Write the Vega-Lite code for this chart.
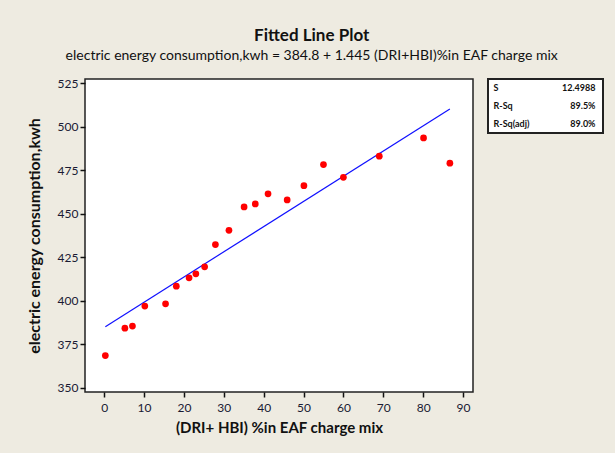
{
  "$schema": "https://vega.github.io/schema/vega-lite/v6.json",
  "background": "#EEEBE1",
  "padding": {"left": 25, "top": 27, "right": 12, "bottom": 20},
  "title": {
    "text": "Fitted Line Plot",
    "subtitle": "electric energy consumption,kwh = 384.8 + 1.445 (DRI+HBI)%in EAF charge mix",
    "anchor": "middle",
    "dx": -3,
    "fontSize": 17,
    "fontWeight": "bold",
    "color": "#111111",
    "subtitleFontSize": 14,
    "subtitleColor": "#111111",
    "subtitlePadding": 4,
    "offset": 12,
    "font": "Lato",
    "subtitleFont": "Lato"
  },
  "spacing": 13,
  "datasets": {
    "points": [
      {"x": 0.3, "y": 368.6},
      {"x": 5.2, "y": 384.3},
      {"x": 7.1, "y": 385.5},
      {"x": 10.2, "y": 397.0},
      {"x": 15.4, "y": 398.3},
      {"x": 18.1, "y": 408.4},
      {"x": 21.3, "y": 413.2},
      {"x": 23.0, "y": 415.5},
      {"x": 25.2, "y": 419.5},
      {"x": 27.9, "y": 432.3},
      {"x": 31.3, "y": 440.5},
      {"x": 35.1, "y": 453.9},
      {"x": 37.9, "y": 455.6},
      {"x": 41.1, "y": 461.4},
      {"x": 45.9, "y": 457.9},
      {"x": 50.1, "y": 466.1},
      {"x": 55.0, "y": 478.2},
      {"x": 60.0, "y": 470.9},
      {"x": 69.0, "y": 483.0},
      {"x": 80.1, "y": 493.5},
      {"x": 86.7, "y": 479.0}
    ],
    "fit": [
      {"x": 0.3, "y": 385.2},
      {"x": 86.7, "y": 510.1}
    ],
    "stats": [
      {"stat": "S", "value": "12.4988"},
      {"stat": "R-Sq", "value": "89.5%"},
      {"stat": "R-Sq(adj)", "value": "89.0%"}
    ]
  },
  "hconcat": [
    {
      "width": 388,
      "height": 313,
      "view": {"stroke": "#222222", "strokeWidth": 1.5, "fill": "white"},
      "encoding": {
        "x": {
          "field": "x", "type": "quantitative",
          "scale": {"domain": [-4.8, 92.5], "nice": false, "zero": false},
          "axis": {
            "title": "(DRI+ HBI) %in EAF charge mix",
            "values": [0, 10, 20, 30, 40, 50, 60, 70, 80, 90],
            "grid": false, "domain": false,
            "tickColor": "#111111", "tickSize": 5, "tickWidth": 1.5,
            "labelPadding": 5, "labelFontSize": 12, "labelColor": "#1a1a33",
            "labelFont": "Lato",
            "titleFont": "Lato",
            "titleFontSize": 15, "titleFontWeight": "bold", "titleColor": "#111111",
            "titlePadding": 7
          }
        },
        "y": {
          "field": "y", "type": "quantitative",
          "scale": {"domain": [347.7, 527.3], "nice": false, "zero": false},
          "axis": {
            "title": "electric energy consumption,kwh",
            "values": [350, 375, 400, 425, 450, 475, 500, 525],
            "grid": false, "domain": false,
            "tickColor": "#111111", "tickSize": 5, "tickWidth": 1.5,
            "labelPadding": 2, "labelFontSize": 12, "labelColor": "#1a1a33",
            "labelFont": "Lato",
            "titleFont": "Lato",
            "titleFontSize": 16, "titleFontWeight": "bold", "titleColor": "#111111",
            "titlePadding": 15
          }
        }
      },
      "layer": [
        {
          "data": {"name": "fit"},
          "mark": {"type": "line", "color": "#1010ff", "strokeWidth": 1.2}
        },
        {
          "data": {"name": "points"},
          "mark": {"type": "circle", "color": "#ff0000", "opacity": 1, "size": 45}
        }
      ]
    },
    {
      "width": 115,
      "height": 54,
      "view": {"stroke": "#222222", "strokeWidth": 2, "fill": "white"},
      "data": {"name": "stats"},
      "encoding": {
        "y": {
          "field": "stat", "type": "nominal", "sort": null,
          "scale": {"paddingOuter": 0.2, "paddingInner": 0},
          "axis": null
        }
      },
      "layer": [
        {
          "mark": {"type": "text", "align": "left", "dx": -52, "fontSize": 9,
                   "font": "Lato", "fontWeight": "bold", "color": "#111111"},
          "encoding": {"text": {"field": "stat"}}
        },
        {
          "mark": {"type": "text", "align": "right", "dx": 50, "fontSize": 9,
                   "font": "Lato", "fontWeight": "bold", "color": "#111111"},
          "encoding": {"text": {"field": "value"}}
        }
      ]
    }
  ]
}
